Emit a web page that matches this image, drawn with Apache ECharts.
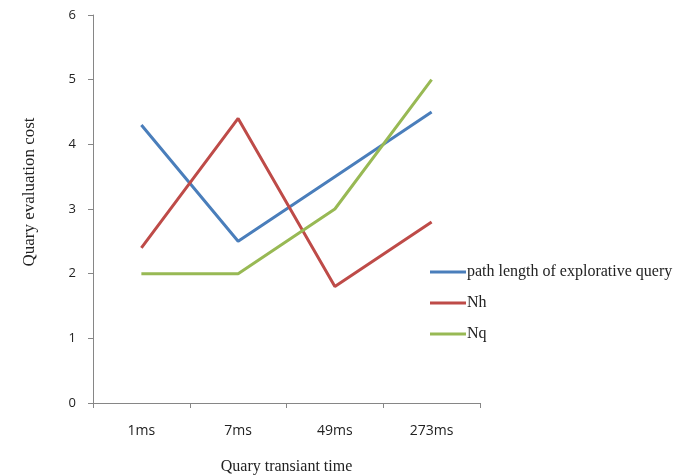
<!DOCTYPE html>
<html><head><meta charset="utf-8">
<script src="https://cdn.jsdelivr.net/npm/echarts@6/dist/echarts.min.js"></script>
<style>html,body{margin:0;padding:0;background:#fff}#c{width:688px;height:475px}</style>
</head><body><div id="c"></div>
<script>
const categories = ['1ms', '7ms', '49ms', '273ms'];
const pathLength = [4.3, 2.5, 3.5, 4.5];
const nh = [2.4, 4.4, 1.8, 2.8];
const nq = [2, 2, 3, 5];
const yTicks = [0, 1, 2, 3, 4, 5, 6];

const chart = echarts.init(document.getElementById('c'));
const mk = (name, data, color) => ({
  name, type: 'line', data, symbol: 'none', smooth: false,
  lineStyle: { width: 3, color }, itemStyle: { color }
});
chart.setOption({
  animation: false,
  backgroundColor: '#fff',
  grid: { left: 93, right: 208, top: 15, bottom: 72, outerBoundsMode: 'none', containLabel: false },
  legend: {
    orient: 'vertical', left: 425, top: 259, itemGap: 15,
    itemWidth: 36, itemHeight: 3, icon: 'rect',
    textStyle: { fontFamily: 'Liberation Serif', fontSize: 16, color: '#222', padding: [0, 0, 0, -4] },
    data: ['path length of explorative query', 'Nh', 'Nq']
  },
  xAxis: {
    type: 'category', data: categories, boundaryGap: true,
    name: 'Quary transiant time', nameLocation: 'middle', nameGap: 56,
    nameTextStyle: { fontFamily: 'Liberation Serif', fontSize: 16, color: '#222' },
    axisLine: { lineStyle: { color: '#868686' } },
    axisTick: { show: true, length: 5, alignWithLabel: false, lineStyle: { color: '#868686' } },
    axisLabel: { fontFamily: 'Open Sans', fontSize: 14, color: '#222', margin: 21 }
  },
  yAxis: {
    type: 'value', min: yTicks[0], max: yTicks[yTicks.length - 1], interval: 1,
    name: 'Quary evaluation cost', nameLocation: 'middle', nameGap: 55,
    nameTextStyle: { fontFamily: 'Liberation Serif', fontSize: 17, color: '#222', padding: [0, 0, 0, 34] },
    axisLine: { show: true, lineStyle: { color: '#868686' } },
    axisTick: { show: true, length: 5, lineStyle: { color: '#868686' } },
    splitLine: { show: false },
    axisLabel: { fontFamily: 'Open Sans', fontSize: 13, color: '#222', margin: 17 }
  },
  series: [
    mk('path length of explorative query', pathLength, '#4a7ebb'),
    mk('Nh', nh, '#be4b48'),
    mk('Nq', nq, '#98b954')
  ]
});
</script></body></html>
